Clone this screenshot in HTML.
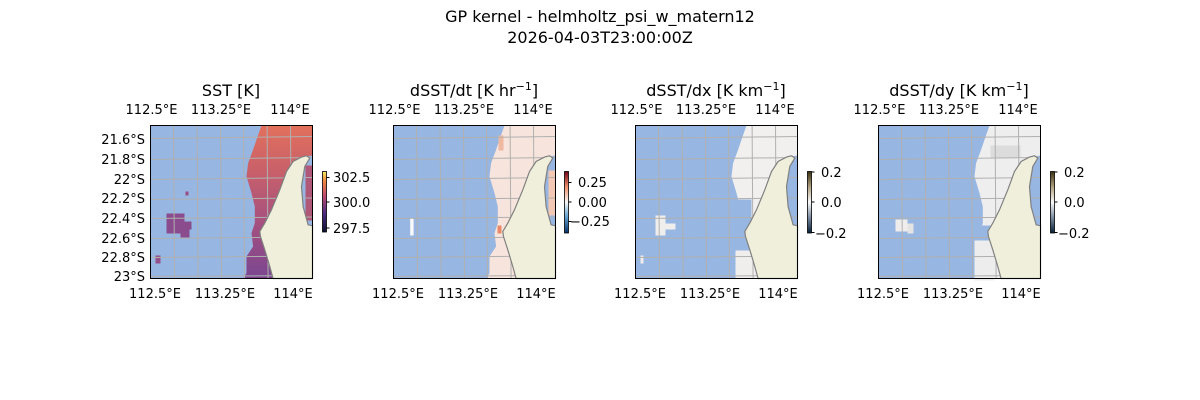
<!DOCTYPE html>
<html><head><meta charset="utf-8"><style>
body{margin:0;background:#fff}
svg{display:block;font-family:"DejaVu Sans","Liberation Sans",sans-serif}
</style></head><body>
<svg width="1200" height="400" viewBox="0 0 1200 400" xmlns="http://www.w3.org/2000/svg">
<defs>
<linearGradient id="sst" x1="0" y1="0" x2="0" y2="1">
<stop offset="0" stop-color="#e2705c"/><stop offset="0.3" stop-color="#c8606a"/><stop offset="0.65" stop-color="#a45080"/><stop offset="1" stop-color="#7a4690"/></linearGradient>
<linearGradient id="cb1" x1="0" y1="1" x2="0" y2="0"><stop offset="0" stop-color="#0d1030"/><stop offset="0.3" stop-color="#4a2a80"/><stop offset="0.6" stop-color="#c04a70"/><stop offset="0.85" stop-color="#f08a40"/><stop offset="1" stop-color="#f8f060"/></linearGradient>
<linearGradient id="cb2" x1="0" y1="1" x2="0" y2="0"><stop offset="0" stop-color="#08306b"/><stop offset="0.25" stop-color="#5a9ccc"/><stop offset="0.5" stop-color="#f7f7f7"/><stop offset="0.75" stop-color="#f0906a"/><stop offset="1" stop-color="#700018"/></linearGradient>
<linearGradient id="cb3" x1="0" y1="1" x2="0" y2="0"><stop offset="0" stop-color="#06203a"/><stop offset="0.25" stop-color="#7a8aa0"/><stop offset="0.5" stop-color="#fafafa"/><stop offset="0.75" stop-color="#b0a080"/><stop offset="1" stop-color="#3a3010"/></linearGradient>
<polygon id="land" points="156,30.3 159.3,32.6 154.3,41 151,61 152.6,81 157.6,99.3 162,100.3 162,153 122.6,153 119.3,141 114.3,124.3 110,111 109.3,106 114.3,97.6 121,84.3 129.3,64.3 136,46 142.6,36 151,31.6"/>
<polygon id="data" points="111,0 162,0 162,30 151,31.6 142.6,36 136,46 129.3,64.3 121,84.3 114.3,97.6 109.3,106 110,111 114.3,124.3 119.3,141 122.6,153 92.6,153 96,147.6 96,131 102.6,121 101,107.6 104.3,97.6 104.3,81 101,67.6 96,51 97.6,37.6 102.6,24.3 106,14.3"/>
<g id="grid" stroke="#b0b0b0" stroke-width="1" fill="none">
<path d="M23,0L24,153M46.6,0L47.6,153M70,0L71,153M93,0L94,153M116.6,0L117.6,153M140,0L141,153"/>
<path d="M0,13L162,11M0,34L162,32M0,54L162,52M0,74L162,72.5M0,93L162,91.5M0,113L162,111.5M0,132L162,130.5M0,151L162,150"/>
</g>
</defs>
<text x="600" y="22" font-size="16" text-anchor="middle">GP kernel - helmholtz_psi_w_matern12</text>
<text x="600" y="43" font-size="16" text-anchor="middle">2026-04-03T23:00:00Z</text>

<g transform="translate(150.5,125.5)">
<rect width="162" height="153" fill="#97b6e1"/>
<use href="#data" fill="url(#sst)"/>
<rect x="16" y="88" width="18" height="20" fill="#8a4c8c"/><rect x="34" y="96" width="7" height="8" fill="#8a4c8c"/><rect x="30" y="104" width="9" height="8" fill="#8a4c8c"/>
<rect x="5" y="130" width="5" height="8" fill="#94508a"/><rect x="35" y="66" width="3" height="4" fill="#984e84"/>
<rect x="155" y="40" width="7" height="55" fill="#b05878"/>
<use href="#grid"/>
<use href="#land" fill="#efefdb" stroke="#808080" stroke-width="1.2"/>
<rect width="162" height="153" fill="none" stroke="#000" stroke-width="1"/>
</g>
<g transform="translate(393.5,125.5)">
<rect width="162" height="153" fill="#97b6e1"/>
<use href="#data" fill="#f7e4dc"/>
<rect x="105" y="10" width="5" height="15" fill="#efb8a0"/><rect x="104" y="100" width="4" height="8" fill="#e88a6a"/>
<rect x="155" y="45" width="7" height="45" fill="#f2c8b4"/>
<rect x="16.7" y="93" width="3.4" height="17" fill="#fafafa"/>
<use href="#grid"/>
<use href="#land" fill="#efefdb" stroke="#808080" stroke-width="1.2"/>
<rect width="162" height="153" fill="none" stroke="#000" stroke-width="1"/>
</g>
<g transform="translate(635.5,125.5)">
<rect width="162" height="153" fill="#97b6e1"/>
<use href="#data" fill="#f2f0ef"/>
<rect x="88" y="74" width="28" height="79" fill="#97b6e1"/>
<rect x="98" y="106" width="20" height="47" fill="#97b6e1"/>
<rect x="100" y="125" width="18" height="28" fill="#f0eeed"/>
<rect x="20" y="90" width="10" height="20" fill="#f0eeed"/><rect x="30" y="98" width="10" height="6" fill="#f0eeed"/>
<rect x="5" y="130" width="3" height="8" fill="#f0eeed"/>
<use href="#grid"/>
<use href="#land" fill="#efefdb" stroke="#808080" stroke-width="1.2"/>
<rect width="162" height="153" fill="none" stroke="#000" stroke-width="1"/>
</g>
<g transform="translate(878.5,125.5)">
<rect width="162" height="153" fill="#97b6e1"/>
<use href="#data" fill="#efeeee"/>
<rect x="112" y="20" width="30" height="12" fill="#dcdcdc"/>
<rect x="88" y="100" width="28" height="53" fill="#97b6e1"/>
<rect x="96" y="115" width="20" height="40" fill="#eeeded"/>
<rect x="17" y="94" width="12" height="12" fill="#f0eeed"/><rect x="29" y="98" width="6" height="10" fill="#e4e4e4"/>
<use href="#grid"/>
<use href="#land" fill="#efefdb" stroke="#808080" stroke-width="1.2"/>
<rect width="162" height="153" fill="none" stroke="#000" stroke-width="1"/>
</g>

<g font-size="13" fill="#000">
<g text-anchor="middle">
<text x="151.5" y="114">112.5°E</text><text x="221" y="114">113.25°E</text><text x="290" y="114">114°E</text>
<text x="394.5" y="114">112.5°E</text><text x="464" y="114">113.25°E</text><text x="533" y="114">114°E</text>
<text x="636.5" y="114">112.5°E</text><text x="706" y="114">113.25°E</text><text x="775" y="114">114°E</text>
<text x="879.5" y="114">112.5°E</text><text x="949" y="114">113.25°E</text><text x="1018" y="114">114°E</text>
<text x="155" y="298">112.5°E</text><text x="225" y="298">113.25°E</text><text x="293" y="298">114°E</text>
<text x="398" y="298">112.5°E</text><text x="468" y="298">113.25°E</text><text x="536" y="298">114°E</text>
<text x="640" y="298">112.5°E</text><text x="710" y="298">113.25°E</text><text x="778" y="298">114°E</text>
<text x="883" y="298">112.5°E</text><text x="953" y="298">113.25°E</text><text x="1021" y="298">114°E</text>
</g>
<g text-anchor="end">
<text x="145" y="144">21.6°S</text><text x="145" y="164">21.8°S</text><text x="145" y="184">22°S</text><text x="145" y="203">22.2°S</text>
<text x="145" y="223">22.4°S</text><text x="145" y="243">22.6°S</text><text x="145" y="262">22.8°S</text><text x="145" y="281">23°S</text>
</g>
<g font-size="16" text-anchor="middle">
<text x="231" y="96">SST [K]</text>
<text x="474" y="96">dSST/dt [K hr<tspan dy="-6" font-size="11">−1</tspan><tspan dy="6">]</tspan></text>
<text x="716" y="96">dSST/dx [K km<tspan dy="-6" font-size="11">−1</tspan><tspan dy="6">]</tspan></text>
<text x="959" y="96">dSST/dy [K km<tspan dy="-6" font-size="11">−1</tspan><tspan dy="6">]</tspan></text>
</g>
<rect x="322.5" y="171.5" width="4" height="60.5" fill="url(#cb1)" stroke="#000" stroke-width="0.8"/>
<path d="M326.5,177.5h3M326.5,202h3M326.5,228h3" stroke="#000"/>
<text x="333" y="182">302.5</text><text x="333" y="207">300.0</text><text x="333" y="233">297.5</text>
<rect x="564.5" y="171.5" width="4" height="61.5" fill="url(#cb2)" stroke="#000" stroke-width="0.8"/>
<path d="M568.5,182.5h3M568.5,202h3M568.5,221.5h3" stroke="#000"/>
<text x="578" y="187">0.25</text><text x="578" y="207">0.00</text><text x="570" y="226">−0.25</text>
<rect x="807.5" y="171.5" width="4" height="61.5" fill="url(#cb3)" stroke="#000" stroke-width="0.8"/>
<path d="M811.5,172h3M811.5,202h3M811.5,232.5h3" stroke="#000"/>
<text x="821" y="177">0.2</text><text x="821" y="207">0.0</text><text x="815" y="238">−0.2</text>
<rect x="1050.5" y="171.5" width="4" height="61.5" fill="url(#cb3)" stroke="#000" stroke-width="0.8"/>
<path d="M1054.5,172h3M1054.5,202h3M1054.5,232.5h3" stroke="#000"/>
<text x="1064" y="177">0.2</text><text x="1064" y="207">0.0</text><text x="1058" y="238">−0.2</text>
</g>
</svg>
</body></html>
